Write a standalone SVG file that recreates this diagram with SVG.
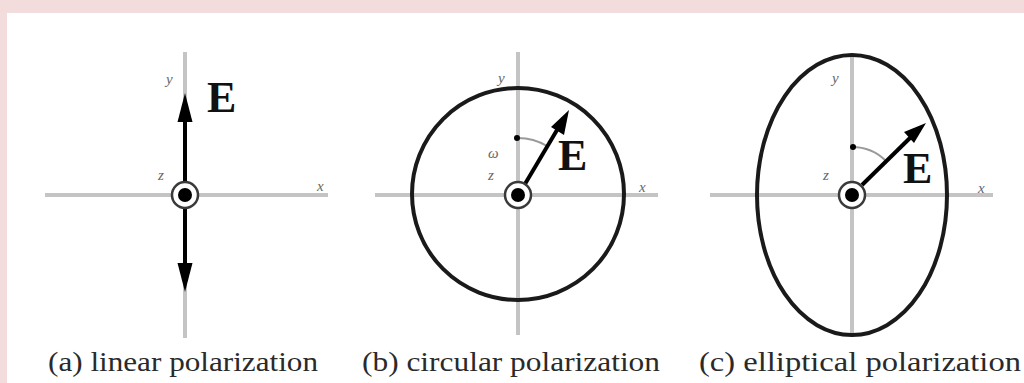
<svg xmlns="http://www.w3.org/2000/svg" width="1024" height="383" viewBox="0 0 1024 383">
<defs>
<style>
.axis{stroke:#c4c4c4;stroke-width:4;fill:none}
.ring{fill:#fff;stroke:#3a3a3a;stroke-width:2.5}
.dot{fill:#000}
.vec{stroke:#000;stroke-width:4;fill:none}
.head{fill:#000}
.curve{stroke:#1a1a1a;stroke-width:4;fill:none}
.arc{stroke:#9a9a9a;stroke-width:2;fill:none}
.lbl{font-style:italic;font-size:15px;fill:#666}
.E{font-weight:bold;font-size:44px;fill:#111}
.cap{font-size:28px;fill:#2a2a2a}
</style>
</defs>
<rect width="1024" height="383" fill="#f2dcdc"/>
<rect x="7" y="13" width="1017" height="370" fill="#fff"/>

<g id="panel-a" font-family="'Liberation Serif', 'Times New Roman', serif">
<line class="axis" x1="45" y1="195" x2="328" y2="195"/>
<line class="axis" x1="185" y1="52" x2="185" y2="338"/>
<text class="lbl" x="166" y="84">y</text>
<text class="lbl" x="158" y="180">z</text>
<text class="lbl" x="317" y="191">x</text>
<text class="E" x="207" y="112">E</text>
</g>
<g id="panel-b" font-family="'Liberation Serif', 'Times New Roman', serif">
<line class="axis" x1="375" y1="195" x2="658" y2="195"/>
<line class="axis" x1="518" y1="52" x2="518" y2="335"/>
<circle class="curve" cx="518" cy="194" r="106"/>
<text class="lbl" x="498" y="83">y</text>
<text class="lbl" x="488" y="158">ω</text>
<text class="lbl" x="488" y="180">z</text>
<text class="lbl" x="639" y="192">x</text>
<text class="E" x="558" y="170">E</text>
</g>
<g id="panel-c" font-family="'Liberation Serif', 'Times New Roman', serif">
<line class="axis" x1="710" y1="195" x2="993" y2="195"/>
<line class="axis" x1="852" y1="55" x2="852" y2="335"/>
<ellipse class="curve" cx="852" cy="195" rx="95" ry="140"/>
<text class="lbl" x="832" y="83">y</text>
<text class="lbl" x="823" y="180">z</text>
<text class="lbl" x="978" y="193">x</text>
<text class="E" x="903" y="183">E</text>
</g>

<g id="connectors">
<line class="vec" x1="185" y1="182" x2="185" y2="118"/>
<polygon class="head" points="185,93 177.5,122 192.5,122"/>
<line class="vec" x1="185" y1="208" x2="185" y2="266"/>
<polygon class="head" points="185,292 177.5,263 192.5,263"/>

<path class="arc" d="M518,138 A57,57 0 0 1 547,146"/>
<circle class="dot" cx="517" cy="138" r="3"/>
<line class="vec" x1="525" y1="184" x2="557" y2="130" stroke-width="3.5"/>
<polygon class="head" points="569,110 551,127 564,135"/>

<path class="arc" d="M852,147 A48,48 0 0 1 886,161"/>
<circle class="dot" cx="853" cy="147" r="3"/>
<line class="vec" x1="862" y1="185" x2="912" y2="136" stroke-width="3.5"/>
<polygon class="head" points="926,123 904,132 914,143"/>
</g>

<g id="hub-a"><circle class="ring" cx="185" cy="195" r="13"/><circle class="dot" cx="185" cy="195" r="7"/></g>
<g id="hub-b"><circle class="ring" cx="518" cy="195" r="13"/><circle class="dot" cx="518" cy="195" r="7"/></g>
<g id="hub-c"><circle class="ring" cx="852" cy="195" r="13"/><circle class="dot" cx="852" cy="195" r="7"/></g>

<g id="captions" font-family="'Liberation Serif', 'Times New Roman', serif">
<text class="cap" x="48" y="371" textLength="270" lengthAdjust="spacingAndGlyphs">(a) linear polarization</text>
<text class="cap" x="362" y="371" textLength="298" lengthAdjust="spacingAndGlyphs">(b) circular polarization</text>
<text class="cap" x="699" y="371" textLength="322" lengthAdjust="spacingAndGlyphs">(c) elliptical polarization</text>
</g>
</svg>
